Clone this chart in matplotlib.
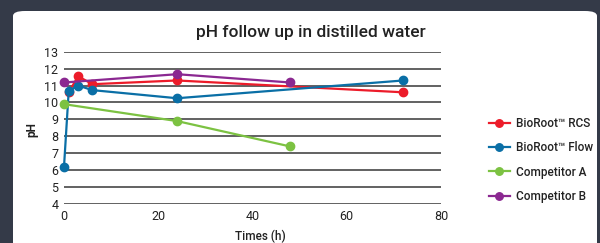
import matplotlib.pyplot as plt
from matplotlib.patches import FancyBboxPatch

# Данные
rcs_t = [1, 3, 6, 24, 72]
rcs_ph = [10.6, 11.55, 11.08, 11.3, 10.6]
flow_t = [0, 1, 3, 6, 24, 72]
flow_ph = [6.2, 10.68, 11.0, 10.73, 10.25, 11.3]
compa_t = [0, 24, 48]
compa_ph = [9.9, 8.9, 7.4]
compb_t = [0, 24, 48]
compb_ph = [11.18, 11.67, 11.18]

labels = ["BioRoot™ RCS", "BioRoot™ Flow", "Competitor A", "Competitor B"]
colors = ["#ec1c2a", "#0a6fa6", "#7cc242", "#8b2891"]
x_ticks = [0, 20, 40, 60, 80]
y_ticks = [4, 5, 6, 7, 8, 9, 10, 11, 12, 13]

plt.rcParams['font.family'] = ['Roboto', 'DejaVu Sans']

fig = plt.figure(figsize=(6, 2.43), dpi=100)
fig.patch.set_facecolor("#343a48")

# белая панель
panel = FancyBboxPatch((13 / 600, -0.1), 584 / 600, 1 - 11 / 243 + 0.1,
                       boxstyle="round,pad=0,rounding_size=0.02",
                       transform=fig.transFigure, facecolor="white",
                       edgecolor="none", zorder=-5)
fig.patches.append(panel)

ax = fig.add_axes([64 / 600, 1 - 204 / 243, (441 - 64) / 600, (204 - 51.7) / 243])
ax.set_facecolor("none")

series = [(rcs_t, rcs_ph), (flow_t, flow_ph), (compa_t, compa_ph), (compb_t, compb_ph)]
for (t, ph), lab, c in zip(series, labels, colors):
    ax.plot(t, ph, color=c, lw=1.6, marker="o", ms=6, label=lab, zorder=3,
            clip_on=False)

ax.set_xlim(0, 80)
ax.set_ylim(4, 13)
ax.set_xticks(x_ticks)
ax.set_yticks(y_ticks)
ax.tick_params(length=0, labelsize=9, colors="#222222", pad=4)
ax.grid(axis="y", color="#555555", lw=1.3, zorder=1)
ax.set_axisbelow(True)
for s in ax.spines.values():
    s.set_visible(False)

fig.text(311 / 600, 1 - 32 / 243, "pH follow up in distilled water",
         ha="center", va="center", fontsize=12.5, color="#222222",
         fontweight="medium")
fig.text(32 / 600, 1 - 130 / 243, "pH", rotation=90, ha="center", va="center",
         fontsize=8.5, color="#222222", fontweight="bold")
fig.text(260 / 600, 1 - 236 / 243, "Times (h)", ha="center", va="center",
         fontsize=8.5, color="#222222", fontweight="medium")

ax.legend(loc="center left", bbox_to_anchor=(478 / 600, 1 - 160 / 243),
          bbox_transform=fig.transFigure, frameon=False,
          prop={"size": 8.5, "weight": "medium"},
          handlelength=1.8, labelspacing=0.95, handletextpad=0.5,
          markerscale=0.9, labelcolor="#222222")

fig.savefig("out.png", dpi=100, facecolor=fig.get_facecolor())
